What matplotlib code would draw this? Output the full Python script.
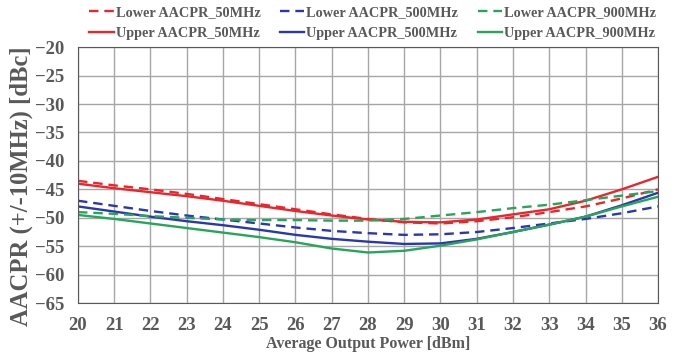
import matplotlib.pyplot as plt

plt.rcParams['font.family'] = ['Liberation Serif', 'DejaVu Serif']

power = [20, 21, 22, 23, 24, 25, 26, 27, 28, 29, 30, 31, 32, 33, 34, 35, 36]

lower_50 = [-43.5, -44.3, -45.0, -45.8, -46.7, -47.6, -48.5, -49.4, -50.2, -50.8, -51.0, -50.6, -49.9, -49.0, -48.0, -46.6, -45.0]
upper_50 = [-44.0, -44.8, -45.5, -46.2, -47.0, -47.9, -48.8, -49.6, -50.3, -50.7, -50.8, -50.3, -49.4, -48.5, -47.0, -45.0, -42.8]
lower_500 = [-47.0, -47.9, -48.8, -49.6, -50.3, -51.0, -51.7, -52.3, -52.7, -53.0, -52.9, -52.5, -51.8, -51.0, -50.2, -49.2, -48.0]
upper_500 = [-48.0, -48.9, -49.8, -50.6, -51.3, -52.1, -53.0, -53.7, -54.2, -54.6, -54.5, -53.7, -52.5, -51.2, -49.8, -47.8, -45.6]
lower_900 = [-49.0, -49.3, -49.7, -50.0, -50.3, -50.4, -50.4, -50.5, -50.5, -50.2, -49.6, -49.0, -48.3, -47.7, -46.9, -46.1, -45.3]
upper_900 = [-49.5, -50.2, -51.0, -51.8, -52.6, -53.4, -54.3, -55.4, -56.1, -55.8, -54.9, -53.8, -52.5, -51.2, -49.8, -48.0, -46.3]

red = '#e8262b'
blue = '#2b36b0'
green = '#27a55a'
grey = '#595959'

fig = plt.figure(figsize=(6.84, 3.6), dpi=100)
ax = fig.add_axes([0.114, 0.158, 0.848, 0.711])

dash = (0, (4, 2.5))
ax.plot(power, lower_50, color=red, lw=1.7, ls=dash, label='Lower AACPR_50MHz')
ax.plot(power, upper_50, color=red, lw=1.7, label='Upper AACPR_50MHz')
ax.plot(power, lower_500, color=blue, lw=1.7, ls=dash, label='Lower AACPR_500MHz')
ax.plot(power, upper_500, color=blue, lw=1.7, label='Upper AACPR_500MHz')
ax.plot(power, lower_900, color=green, lw=1.7, ls=dash, label='Lower AACPR_900MHz')
ax.plot(power, upper_900, color=green, lw=1.7, label='Upper AACPR_900MHz')

ax.set_xlim(20, 36)
ax.set_ylim(-65, -20)
ax.set_xticks(range(20, 37))
ax.set_yticks(range(-65, -19, 5))
ax.grid(True, color='#a6a6a6', lw=1)
for s in ax.spines.values():
    s.set_color(grey)
ax.tick_params(length=0, labelsize=13.5, labelcolor=grey)
ax.tick_params(axis='x', pad=10)
ax.tick_params(axis='y', pad=10)
for lab in ax.get_xticklabels() + ax.get_yticklabels():
    lab.set_fontweight('bold')

ax.set_xlabel('Average Output Power [dBm]', fontsize=11.5, color=grey, fontweight='bold', labelpad=1.5)
ax.set_ylabel('AACPR (+/-10MHz) [dBc]', fontsize=17.7, color=grey, fontweight='bold')
ax.yaxis.set_label_coords(-0.078, 0.455)

fig.legend(loc='upper left', bbox_to_anchor=(0.112, 1.02), ncol=3, frameon=False,
           prop={'size': 10.3, 'weight': 'bold'}, handlelength=1.7, columnspacing=1.35,
           labelspacing=0.6, handletextpad=0.15, labelcolor=grey)

fig.savefig('out.png', dpi=100)
